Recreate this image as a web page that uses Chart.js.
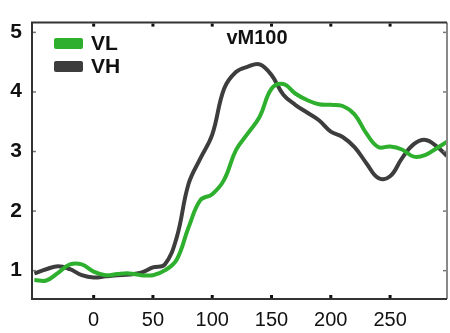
<!DOCTYPE html>
<html>
<head>
<meta charset="utf-8">
<script src="https://cdn.jsdelivr.net/npm/chart.js@4.4.1/dist/chart.umd.min.js"></script>
<style>
  html, body { margin: 0; padding: 0; background: #fff; }
  #wrap { width: 450px; height: 333px; }
</style>
</head>
<body>
<div id="wrap"><canvas id="vmChart"></canvas></div>
<script>
// Zeitachse (ms) und Werte beider Bedingungen
const times = [-50, -40, -30, -20, -10, 0, 10, 20, 30, 40, 50, 60, 70, 80, 90, 100, 110, 120,
    130, 140, 150, 160, 170, 180, 190, 200, 210, 220, 230, 240, 250, 260, 270, 280, 290, 298];
const vlValues = [0.84, 0.83, 0.96, 1.10, 1.10, 0.98, 0.92, 0.94, 0.95, 0.92, 0.92, 1.00, 1.18, 1.72,
    2.18, 2.28, 2.52, 3.02, 3.30, 3.58, 4.05, 4.13, 3.97, 3.86, 3.79, 3.78, 3.76, 3.62, 3.30, 3.07,
    3.08, 3.03, 2.91, 2.94, 3.06, 3.16];
const vhValues = [0.95, 1.02, 1.07, 1.02, 0.92, 0.88, 0.90, 0.92, 0.93, 0.96, 1.05, 1.10, 1.55, 2.45,
    2.88, 3.28, 4.05, 4.33, 4.42, 4.46, 4.28, 3.95, 3.78, 3.65, 3.52, 3.33, 3.24, 3.07, 2.80, 2.55,
    2.58, 2.88, 3.12, 3.19, 3.07, 2.92];
const xTicks = [0, 50, 100, 150, 200, 250];
const yTicks = [1, 2, 3, 4, 5];
const seriesNames = ['VL', 'VH'];
const chartTitle = 'vM100';

const GREEN = '#2eb02e';
const DARK = '#3d3d3d';

// Rahmen, Ticks nach innen, Titel und Legende
const framePlugin = {
    id: 'frame',
    afterDraw(chart) {
        const ctx = chart.ctx;
        const a = chart.chartArea;
        const xs = chart.scales.x;
        const ys = chart.scales.y;
        ctx.save();

        // Rahmen
        ctx.lineWidth = 2;
        ctx.strokeStyle = '#8a8a8a';
        ctx.beginPath();
        ctx.moveTo(a.right, a.top);
        ctx.lineTo(a.right, a.bottom);
        ctx.stroke();
        ctx.strokeStyle = '#333';
        ctx.beginPath();
        ctx.moveTo(a.right, a.top);
        ctx.lineTo(a.left, a.top);
        ctx.lineTo(a.left, a.bottom);
        ctx.lineTo(a.right, a.bottom);
        ctx.stroke();

        // Tick-Markierungen
        ctx.fillStyle = '#111';
        xTicks.forEach(v => {
            const px = xs.getPixelForValue(v);
            ctx.fillRect(px - 1.5, a.bottom - 4, 3, 3);
            ctx.fillRect(px - 1.5, a.top + 1, 3, 3);
        });
        ctx.fillStyle = '#777';
        yTicks.forEach(v => {
            const py = ys.getPixelForValue(v);
            ctx.fillRect(a.left + 1, py - 0.5, 3, 1.5);
            ctx.fillRect(a.right - 4, py - 0.5, 3, 1.5);
        });

        // Titel
        ctx.fillStyle = '#111';
        ctx.font = 'bold 20px "Liberation Sans", Arial, sans-serif';
        ctx.textAlign = 'center';
        ctx.textBaseline = 'alphabetic';
        ctx.fillText(chartTitle, 257, 44);

        // Legende
        ctx.font = 'bold 21px "Liberation Sans", Arial, sans-serif';
        ctx.textAlign = 'left';
        ctx.textBaseline = 'middle';
        chart.data.datasets.forEach((ds, i) => {
            const y = 43.5 + i * 23;
            ctx.fillStyle = ds.borderColor;
            ctx.beginPath();
            ctx.roundRect(54, y - 5.5, 29, 11, 2);
            ctx.fill();
            ctx.fillStyle = '#111';
            ctx.fillText(ds.label, 91, y + 1);
        });
        ctx.restore();
    }
};

function makeSeries(values) {
    return values.map((v, i) => ({ x: times[i], y: v }));
}

document.addEventListener('DOMContentLoaded', function() {
    const ctx = document.getElementById('vmChart').getContext('2d');
    new Chart(ctx, {
        type: 'line',
        data: {
            datasets: [
                {
                    label: seriesNames[0],
                    data: makeSeries(vlValues),
                    borderColor: GREEN,
                    borderWidth: 4,
                    pointRadius: 0,
                    tension: 0.4,
                    fill: false
                },
                {
                    label: seriesNames[1],
                    data: makeSeries(vhValues),
                    borderColor: DARK,
                    borderWidth: 4,
                    pointRadius: 0,
                    tension: 0.4,
                    fill: false
                }
            ]
        },
        options: {
            responsive: true,
            maintainAspectRatio: false,
            animation: false,
            layout: { padding: { top: 10, right: 3, left: 0, bottom: 0 } },
            plugins: {
                legend: { display: false },
                tooltip: { enabled: false }
            },
            scales: {
                x: {
                    type: 'linear',
                    min: -52,
                    max: 298,
                    grid: { display: false, drawTicks: false },
                    border: { display: false },
                    afterBuildTicks: axis => { axis.ticks = xTicks.map(v => ({ value: v })); },
                    afterFit: axis => { axis.height = 34; },
                    ticks: {
                        maxRotation: 0,
                        autoSkip: false,
                        padding: 9,
                        color: '#111',
                        font: { family: '"Liberation Sans", Arial, sans-serif', size: 20 }
                    }
                },
                y: {
                    min: 0.52,
                    max: 5.16,
                    grid: { display: false, drawTicks: false },
                    border: { display: false },
                    afterBuildTicks: axis => { axis.ticks = yTicks.map(v => ({ value: v })); },
                    afterFit: axis => { axis.width = 32; },
                    ticks: {
                        padding: 10,
                        color: '#111',
                        font: { family: '"Liberation Sans", Arial, sans-serif', size: 21, weight: 'bold' }
                    }
                }
            }
        },
        plugins: [framePlugin]
    });
});
</script>
</body>
</html>
